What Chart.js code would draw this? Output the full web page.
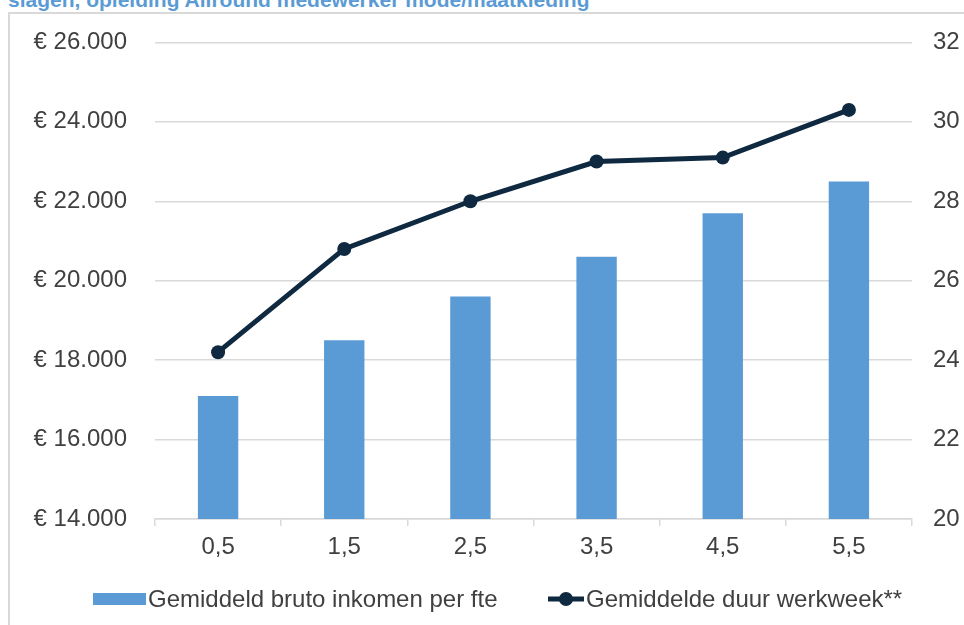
<!DOCTYPE html>
<html><head><meta charset="utf-8">
<script src="https://cdn.jsdelivr.net/npm/chart.js@4/dist/chart.umd.min.js"></script>
<style>
html,body{margin:0;padding:0;background:#fff;width:964px;height:625px;overflow:hidden;}
#frame{position:absolute;left:8px;top:12px;width:1000px;height:700px;border:2px solid #d9d9d9;box-sizing:border-box;}
#title{position:absolute;left:8px;top:-12px;font:bold 21px "Liberation Sans",Arial,sans-serif;color:#5b9bd5;white-space:nowrap;}
#wrap{position:absolute;left:0;top:0;width:964px;height:625px;}
</style></head><body>
<div id="frame"></div>
<div id="title">slagen, opleiding Allround medewerker mode/maatkleding</div>
<div id="wrap"><canvas id="c" width="964" height="625"></canvas></div>
<script>
const categories = ["0,5","1,5","2,5","3,5","4,5","5,5"];
const inkomen = [17100, 18500, 19600, 20600, 21700, 22500];
const werkweek = [24.2, 26.8, 28.0, 29.0, 29.1, 30.3];
const seriesNames = ["Gemiddeld bruto inkomen per fte", "Gemiddelde duur werkweek**"];
const leftTicks = [14000, 16000, 18000, 20000, 22000, 24000, 26000];
const rightTicks = [20, 22, 24, 26, 28, 30, 32];

const FONT = '"Liberation Sans", Arial, sans-serif';
const FS = 24;
const BAR = '#5b9bd5', LINE = '#0f2940', GRID = '#d9d9d9', TXT = '#404040';

const legendPlugin = {
  id: 'customLegend',
  afterDraw(chart) {
    const ctx = chart.ctx;
    ctx.save();
    ctx.font = FS + 'px ' + FONT;
    ctx.textBaseline = 'middle';
    const y = 599;
    ctx.fillStyle = BAR;
    ctx.fillRect(93, y - 6, 53, 12);
    ctx.fillStyle = TXT;
    ctx.fillText(seriesNames[0], 148, y + 1);
    ctx.strokeStyle = LINE; ctx.lineWidth = 5;
    ctx.beginPath(); ctx.moveTo(548, y); ctx.lineTo(584, y); ctx.stroke();
    ctx.fillStyle = LINE;
    ctx.beginPath(); ctx.arc(566, y, 7, 0, Math.PI * 2); ctx.fill();
    ctx.fillStyle = TXT;
    ctx.fillText(seriesNames[1], 586, y + 1);
    ctx.restore();
  }
};

const nf = v => '€ ' + v.toLocaleString('de-DE');

new Chart(document.getElementById('c'), {
  data: {
    labels: categories,
    datasets: [
      { type: 'line', label: seriesNames[1], data: werkweek, yAxisID: 'y1',
        borderColor: LINE, backgroundColor: LINE, borderWidth: 5,
        pointRadius: 7, pointHoverRadius: 7, pointBackgroundColor: LINE, pointBorderWidth: 0,
        tension: 0, order: 0 },
      { type: 'bar', label: seriesNames[0], data: inkomen, yAxisID: 'y',
        backgroundColor: BAR, categoryPercentage: 1, barPercentage: 0.32, order: 1 }
    ]
  },
  options: {
    responsive: false, animation: false,
    layout: { padding: { top: 41, bottom: 46, left: 0, right: 0 } },
    plugins: { legend: { display: false }, tooltip: { enabled: false } },
    scales: {
      x: {
        offset: true,
        grid: { offset: true, drawOnChartArea: false, drawTicks: true, tickLength: 7, color: GRID, lineWidth: 1.5 },
        border: { color: GRID, width: 1.5 },
        ticks: { font: { size: FS, family: FONT }, color: TXT, padding: 7 },
        afterFit(s) { s.height = 60; }
      },
      y: {
        position: 'left', min: 14000, max: 26000,
        afterBuildTicks(s) { s.ticks = leftTicks.map(v => ({ value: v })); },
        grid: { color: GRID, lineWidth: 1.5, drawTicks: false },
        border: { display: false },
        ticks: { font: { size: FS, family: FONT }, color: TXT, padding: 28, callback: v => nf(v) },
        afterFit(s) { s.width = 155; }
      },
      y1: {
        position: 'right', min: 20, max: 32,
        afterBuildTicks(s) { s.ticks = rightTicks.map(v => ({ value: v })); },
        grid: { drawOnChartArea: false, drawTicks: false },
        border: { display: false },
        ticks: { font: { size: FS, family: FONT }, color: TXT, padding: 21 },
        afterFit(s) { s.width = 52; }
      }
    }
  },
  plugins: [legendPlugin]
});
</script>
</body></html>
